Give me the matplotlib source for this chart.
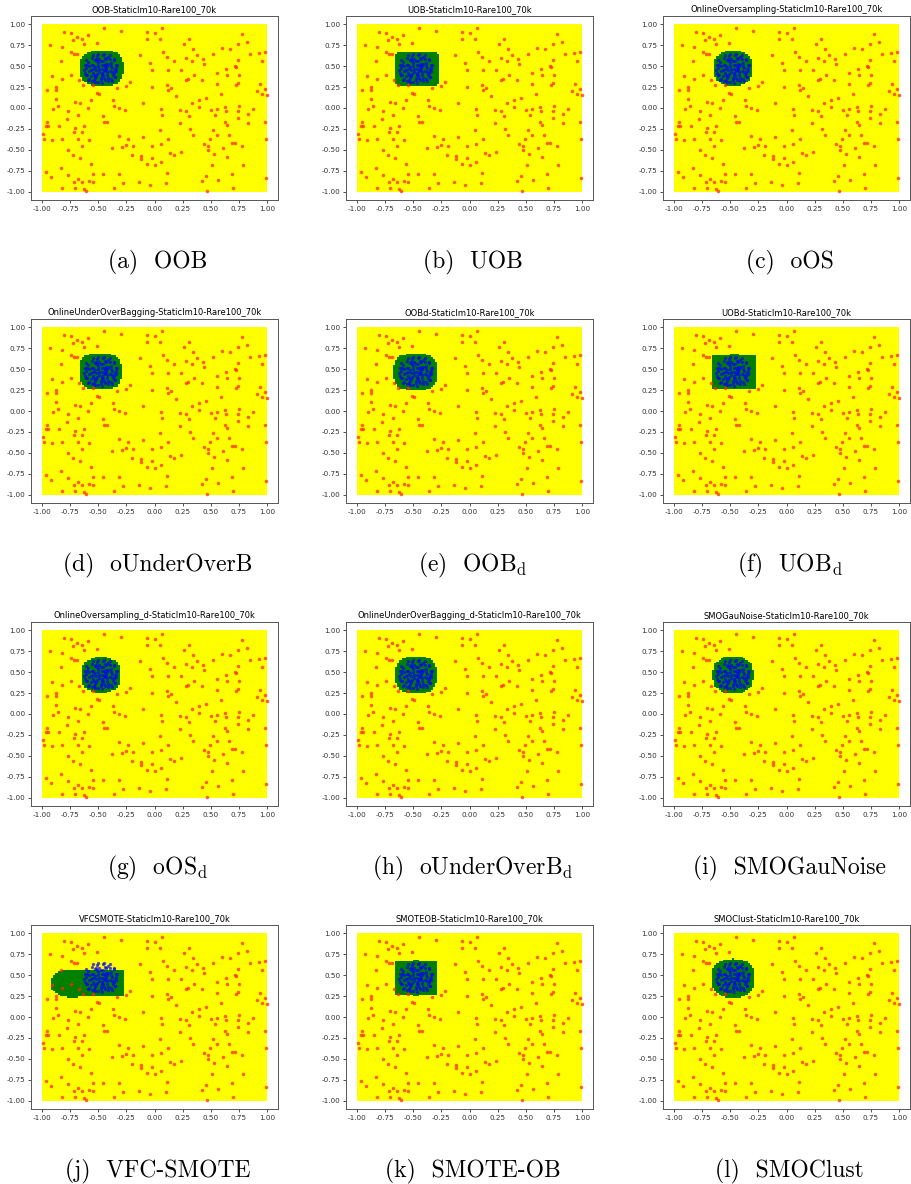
import numpy as np
import matplotlib
matplotlib.use('Agg')
import matplotlib.pyplot as plt
from matplotlib.colors import ListedColormap

plt.rcParams['mathtext.fontset'] = 'cm'

# run names (titles) and short labels for the captions
titles = ['OOB-StaticIm10-Rare100_70k', 'UOB-StaticIm10-Rare100_70k',
          'OnlineOversampling-StaticIm10-Rare100_70k',
          'OnlineUnderOverBagging-StaticIm10-Rare100_70k',
          'OOBd-StaticIm10-Rare100_70k', 'UOBd-StaticIm10-Rare100_70k',
          'OnlineOversampling_d-StaticIm10-Rare100_70k',
          'OnlineUnderOverBagging_d-StaticIm10-Rare100_70k',
          'SMOGauNoise-StaticIm10-Rare100_70k', 'VFCSMOTE-StaticIm10-Rare100_70k',
          'SMOTEOB-StaticIm10-Rare100_70k', 'SMOClust-StaticIm10-Rare100_70k']
captions = ['(a)  OOB', '(b)  UOB', '(c)  oOS', '(d)  oUnderOverB',
            '(e)  OOB$_\\mathrm{d}$', '(f)  UOB$_\\mathrm{d}$',
            '(g)  oOS$_\\mathrm{d}$', '(h)  oUnderOverB$_\\mathrm{d}$',
            '(i)  SMOGauNoise', '(j)  VFC-SMOTE', '(k)  SMOTE-OB',
            '(l)  SMOClust']

# predicted minority region per model: (cx, cy, half width, half height, exponent)
regions = [
    [(-0.475, 0.48, 0.20, 0.215, 2.6)],
    [(-0.47, 0.47, 0.20, 0.20, 10)],
    [(-0.48, 0.48, 0.175, 0.215, 2.3)],
    [(-0.485, 0.475, 0.19, 0.215, 3.0)],
    [(-0.485, 0.47, 0.20, 0.22, 2.8)],
    [(-0.47, 0.475, 0.20, 0.205, 20)],
    [(-0.48, 0.47, 0.18, 0.215, 2.3)],
    [(-0.48, 0.47, 0.19, 0.22, 2.6)],
    [(-0.48, 0.47, 0.185, 0.225, 2.3)],
    [(-0.51, 0.415, 0.24, 0.16, 20), (-0.74, 0.405, 0.20, 0.17, 2.0)],
    [(-0.48, 0.47, 0.195, 0.21, 15)],
    [(-0.48, 0.465, 0.20, 0.235, 2.3)],
]

# majority class stream (same sample in every run)
maj_x = [-0.45, -0.81, -0.74, -0.30, -0.07, 0.00, 0.07, -0.69, -0.65, -0.59,
         -0.73, -0.07, 0.05, -0.51, -0.63, -0.93, -0.82, 0.78, 0.74, 0.82,
         0.31, 0.26, 0.34, 0.52, 0.60, 0.67, 0.85, 0.93, 0.98, -0.13,
         0.08, -0.04, 0.11, 0.17, 0.28, 0.38, 0.33, 0.43, 0.44, 0.74,
         0.72, 0.96, -0.74, -0.72, -0.69, -0.83, -0.91, -0.82, -0.74, -0.67,
         -0.64, -0.55, -0.33, -0.25, -0.22, -0.02, -0.02, 0.11, 0.12, 0.15,
         0.12, 0.24, 0.28, 0.30, 0.19, 0.35, 0.42, 0.56, 0.56, 0.64,
         0.65, 0.59, 0.73, 0.74, 0.75, 0.73, 0.91, 0.94, 0.96, 1.00,
         0.98, -0.96, -0.88, -0.88, -0.88, -0.86, -0.90, -0.57, -0.59, -0.66,
         -0.71, -0.51, -0.49, -0.37, -0.36, -0.32, -0.26, -0.10, 0.06, 0.07,
         0.23, 0.28, 0.31, 0.33, 0.40, 0.46, 0.40, 0.50, 0.56, 0.54,
         0.63, 0.64, 0.75, 0.74, 0.83, 0.88, 0.83, 0.63, 0.74, 0.98,
         0.99, -0.99, -0.96, -0.95, -0.97, -0.98, -0.91, -0.85, -0.82, -0.78,
         -0.77, -0.68, -0.71, -0.72, -0.68, -0.65, -0.63, -0.58, -0.65, -0.46,
         -0.45, -0.42, -0.32, -0.29, -0.24, -0.25, -0.19, -0.02, 0.06, 0.05,
         0.12, 0.14, 0.17, 0.24, 0.23, 0.32, 0.34, 0.44, 0.48, 0.49,
         0.52, 0.53, 0.56, 0.65, 0.66, 0.69, 0.72, 0.78, 0.65, 0.61,
         0.48, 0.51, 0.79, 0.69, 0.57, 0.70, 0.47, 0.46, 0.42, 0.99,
         -0.77, -0.73, -0.66, -0.57, -0.83, -0.97, -0.92, -0.77, -0.72, -0.68,
         -0.65, -0.58, -0.55, -0.55, -0.46, -0.32, -0.82, -0.71, -0.63, -0.61,
         -0.36, -0.28, -0.14, -0.04, 0.10, 0.11, 0.06, -0.12, -0.12, -0.07,
         0.00, -0.02, -0.20, -0.10, -0.38]
maj_y = [0.96, 0.91, 0.90, 0.92, 0.91, 0.90, 0.96, 0.85, 0.83, 0.87,
         0.81, 0.82, 0.82, 0.78, 0.76, 0.75, 0.73, 0.89, 0.77, 0.79,
         0.83, 0.77, 0.70, 0.65, 0.72, 0.71, 0.65, 0.66, 0.67, 0.63,
         0.67, 0.54, 0.61, 0.56, 0.60, 0.63, 0.56, 0.58, 0.53, 0.57,
         0.50, 0.56, 0.67, 0.65, 0.65, 0.56, 0.38, 0.35, 0.39, 0.34,
         0.28, 0.28, 0.24, 0.26, 0.31, 0.25, 0.46, 0.27, 0.22, 0.24,
         0.46, 0.46, 0.33, 0.35, 0.14, 0.40, 0.33, 0.29, 0.42, 0.47,
         0.40, 0.17, 0.28, 0.30, 0.40, 0.49, 0.20, 0.29, 0.17, 0.15,
         0.23, 0.22, 0.25, 0.22, 0.11, 0.02, -0.01, 0.09, 0.00, 0.06,
         0.07, 0.18, 0.17, 0.09, 0.02, 0.00, -0.02, 0.06, -0.01, -0.08,
         -0.02, -0.04, -0.10, 0.06, 0.10, 0.12, 0.01, -0.02, -0.01, -0.08,
         0.01, -0.04, 0.02, -0.03, -0.07, -0.01, -0.18, -0.17, -0.12, -0.17,
         -0.37, -0.31, -0.17, -0.21, -0.22, -0.37, -0.38, -0.21, -0.37, -0.13,
         -0.03, -0.08, -0.24, -0.29, -0.37, -0.29, -0.21, -0.38, -0.45, -0.10,
         -0.17, -0.17, -0.33, -0.47, -0.37, -0.44, -0.46, -0.46, -0.43, -0.26,
         -0.37, -0.54, -0.56, -0.53, -0.18, -0.25, -0.32, -0.43, -0.45, -0.37,
         -0.26, -0.55, -0.32, -0.20, -0.32, -0.42, -0.42, -0.46, -0.58, -0.48,
         -0.50, -0.68, -0.68, -0.79, -0.86, -0.96, -0.99, -0.81, -0.87, -0.84,
         -0.50, -0.56, -0.60, -0.67, -0.72, -0.77, -0.82, -0.80, -0.88, -0.85,
         -0.88, -0.87, -0.89, -0.79, -0.79, -0.79, -0.96, -0.96, -0.97, -0.99,
         -0.96, -0.90, -0.88, -0.92, -0.90, -0.78, -0.65, -0.61, -0.57, -0.67,
         -0.68, -0.60, -0.56, -0.35, -0.48]

# minority class cluster
min_x = [-0.61, -0.60, -0.59, -0.58, -0.57, -0.56, -0.55, -0.55, -0.54, -0.53,
         -0.52, -0.52, -0.51, -0.50, -0.50, -0.49, -0.48, -0.48, -0.47, -0.46,
         -0.46, -0.45, -0.44, -0.44, -0.43, -0.42, -0.42, -0.41, -0.40, -0.39,
         -0.39, -0.38, -0.37, -0.36, -0.35, -0.35, -0.34, -0.58, -0.56, -0.53,
         -0.51, -0.49, -0.47, -0.45, -0.43, -0.41, -0.40, -0.38, -0.54, -0.50,
         -0.47, -0.45, -0.43, -0.57, -0.52, -0.48, -0.44, -0.36, -0.60, -0.49,
         -0.46, -0.42, -0.55, -0.39, -0.53, -0.47, -0.44, -0.41, -0.51, -0.58,
         -0.63, -0.62, -0.61, -0.34, -0.33, -0.35, -0.50, -0.45, -0.55, -0.40,
         -0.47, -0.53, -0.41, -0.61, -0.36, -0.59, -0.62, -0.34, -0.56, -0.38]
min_y = [0.48, 0.40, 0.55, 0.35, 0.46, 0.60, 0.42, 0.51, 0.33, 0.57,
         0.45, 0.38, 0.62, 0.50, 0.31, 0.43, 0.56, 0.36, 0.47, 0.63,
         0.40, 0.52, 0.33, 0.45, 0.58, 0.39, 0.50, 0.61, 0.44, 0.35,
         0.54, 0.48, 0.40, 0.57, 0.46, 0.37, 0.51, 0.44, 0.52, 0.49,
         0.41, 0.58, 0.39, 0.44, 0.53, 0.36, 0.58, 0.43, 0.40, 0.54,
         0.52, 0.36, 0.47, 0.38, 0.59, 0.33, 0.60, 0.42, 0.52, 0.47,
         0.56, 0.43, 0.47, 0.50, 0.36, 0.42, 0.49, 0.53, 0.56, 0.50,
         0.45, 0.52, 0.39, 0.44, 0.52, 0.37, 0.65, 0.65, 0.63, 0.63,
         0.30, 0.31, 0.32, 0.57, 0.59, 0.34, 0.42, 0.48, 0.32, 0.32]

W, H = 911, 1184
fig = plt.figure(figsize=(W / 100, H / 100), dpi=100)

# decision surface mesh
g = np.linspace(-1, 1, 101)
gx, gy = np.meshgrid(g, g)
cmap = ListedColormap(['#ffff00', '#007f00'])

col_left = [31, 346, 663]
row_top = [16, 319, 622, 925]
aw, ah = 247, 184

for i, title in enumerate(titles):
    r, c = divmod(i, 3)
    ax = fig.add_axes([col_left[c] / W, 1 - (row_top[r] + ah) / H, aw / W, ah / H])

    mask = np.zeros_like(gx, dtype=bool)
    for cx, cy, a, b, p in regions[i]:
        mask |= (np.abs((gx - cx) / a) ** p + np.abs((gy - cy) / b) ** p) <= 1
    ax.imshow(mask.astype(float), extent=(-1, 1, -1, 1), origin='lower',
              cmap=cmap, vmin=0, vmax=1, interpolation='nearest', aspect='auto')

    ax.scatter(maj_x, maj_y, s=6.5, color='#ff2a00', alpha=0.75, lw=0)
    ax.scatter(min_x, min_y, s=5.5, color='#0000ff', alpha=0.7, lw=0)

    ax.set_xlim(-1.1, 1.1)
    ax.set_ylim(-1.1, 1.1)
    ticks = np.arange(-1, 1.01, 0.25)
    ax.set_xticks(ticks)
    ax.set_yticks(ticks)
    ax.set_xticklabels(['%.2f' % t for t in ticks])
    ax.set_yticklabels(['%.2f' % t for t in ticks])
    ax.tick_params(labelsize=5.2, length=2.5, width=0.6, pad=1.5, colors='#333333')
    for sp in ax.spines.values():
        sp.set_linewidth(0.7)
        sp.set_color('#555555')
    ax.set_title(title, fontsize=6, pad=3)

    fig.text((col_left[c] + aw / 2 + 3) / W, 1 - (262 + r * 303) / H, captions[i],
             fontfamily='cmr10', fontsize=17, ha='center', va='center')

fig.savefig('out.png', dpi=100)
